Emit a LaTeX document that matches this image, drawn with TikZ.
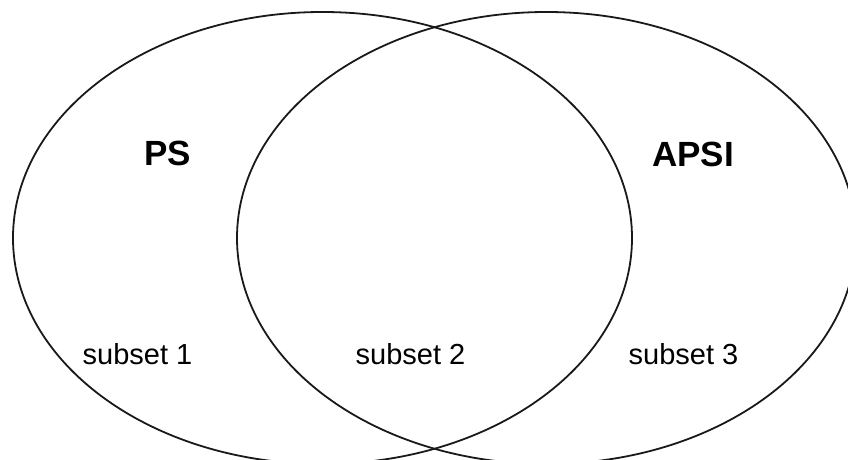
\documentclass[tikz,border=0pt]{standalone}
\usepackage{fontspec}
\setmainfont{Liberation Sans}
\begin{document}
\begin{tikzpicture}[x=1pt,y=1pt,
  setline/.style={line width=1.8pt, draw=black!90},
  setlabel/.style={font=\fontsize{35}{40}\selectfont\bfseries, inner sep=0pt},
  sublabel/.style={font=\fontsize{29}{34}\selectfont, inner sep=0pt}]
\useasboundingbox (0,0) rectangle (848,460);
\clip (0,0) rectangle (848,460);
\draw[setline] (322.5,222) ellipse [x radius=309.5, y radius=226];
\draw[setline] (546.5,222) ellipse [x radius=309.5, y radius=226];
\node[setlabel] (ps) at (167.5,307) {PS};
\node[setlabel] (apsi) at (693,306) {APSI};
\node[sublabel] (s1) at (137.5,106) {subset 1};
\node[sublabel] (s2) at (410.5,106) {subset 2};
\node[sublabel] (s3) at (683.5,106) {subset 3};
\end{tikzpicture}
\end{document}
